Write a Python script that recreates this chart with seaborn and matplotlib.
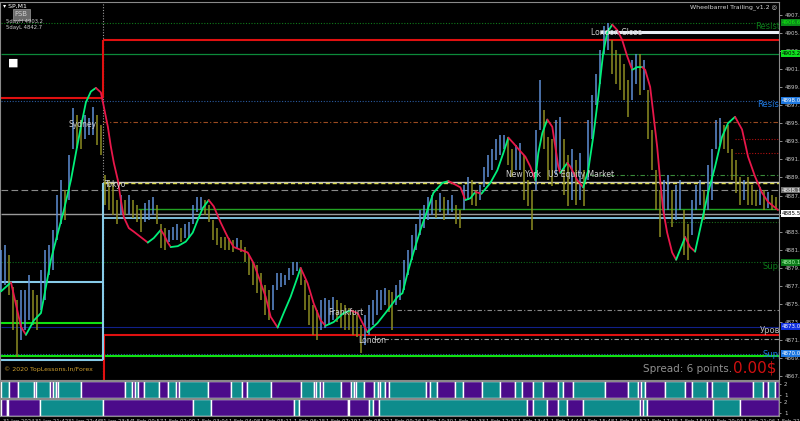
import numpy as np
import pandas as pd
import matplotlib
matplotlib.use("Agg")
import matplotlib.pyplot as plt
import seaborn as sns

# ---- price bars (sampled every 4 bars) ----
bar_x = np.arange(0, 780, 4)
bar_high = [
    4881.5, 4882.0, 4880.9, 4877.4, 4875.9, 4877.1, 4877.1, 4878.7, 4877.1, 4876.5,
    4879.3, 4881.5, 4882.0, 4883.7, 4887.6, 4889.2, 4888.1, 4892.0, 4897.2, 4896.4,
    4895.9, 4896.4, 4896.1, 4897.3, 4896.4, 4895.3, 4889.8, 4889.2, 4888.7, 4887.0,
    4887.6, 4887.0, 4887.6, 4887.0, 4886.5, 4885.9, 4886.7, 4887.0, 4887.3, 4886.5,
    4884.3, 4883.9, 4883.7, 4884.0, 4884.3, 4883.9, 4884.3, 4884.6, 4886.5, 4887.3,
    4887.3, 4887.0, 4886.5, 4884.8, 4883.9, 4882.9, 4882.9, 4882.8, 4882.6, 4882.8,
    4882.6, 4881.8, 4880.9, 4880.2, 4879.8, 4878.9, 4877.6, 4877.1, 4877.6, 4878.9,
    4878.9, 4878.7, 4879.5, 4880.2, 4880.2, 4879.5, 4878.2, 4876.5, 4875.4, 4874.8,
    4875.9, 4876.2, 4875.9, 4876.3, 4875.9, 4875.6, 4875.4, 4875.1, 4874.8, 4874.3,
    4873.2, 4874.3, 4875.4, 4875.9, 4877.1, 4877.1, 4877.3, 4877.1, 4876.8, 4877.6,
    4878.2, 4880.4, 4881.5, 4883.1, 4884.3, 4885.9, 4886.5, 4887.3, 4887.6, 4887.0,
    4887.8, 4887.3, 4887.0, 4887.6, 4886.5, 4885.9, 4888.7, 4889.6, 4889.2, 4888.1,
    4888.7, 4890.6, 4892.0, 4892.6, 4893.7, 4894.2, 4894.2, 4894.0, 4892.6, 4893.1,
    4893.3, 4892.0, 4889.2, 4888.1, 4894.8, 4900.3, 4897.0, 4894.0, 4893.7, 4895.9,
    4896.2, 4893.7, 4892.0, 4892.6, 4891.4, 4892.2, 4890.3, 4895.9, 4898.6, 4900.9,
    4903.6, 4906.2, 4906.6, 4904.7, 4903.6, 4903.1, 4902.0, 4900.3, 4902.5, 4903.1,
    4903.1, 4902.5, 4899.2, 4894.8, 4890.3, 4888.1, 4889.2, 4889.8, 4888.1, 4888.7,
    4889.2, 4885.9, 4884.3, 4887.0, 4888.7, 4889.2, 4888.1, 4890.9, 4892.6, 4895.9,
    4896.1, 4895.3, 4895.3, 4892.6, 4891.4, 4889.6, 4889.2, 4889.6, 4888.7, 4888.1,
    4888.4, 4888.1, 4887.9, 4887.6, 4887.3,
]
bar_low = [
    4877.1, 4877.6, 4876.5, 4872.6, 4869.6, 4871.5, 4872.6, 4873.7, 4873.2, 4872.6,
    4874.8, 4875.9, 4878.7, 4879.3, 4882.6, 4884.3, 4884.8, 4887.0, 4892.6, 4892.8,
    4892.6, 4893.7, 4894.2, 4894.2, 4893.1, 4892.0, 4886.5, 4885.9, 4885.4, 4884.3,
    4885.4, 4885.4, 4885.4, 4885.0, 4884.6, 4883.5, 4884.6, 4884.8, 4885.4, 4884.3,
    4881.7, 4881.5, 4882.4, 4882.6, 4882.6, 4882.4, 4882.8, 4882.8, 4884.3, 4885.7,
    4885.9, 4885.4, 4884.6, 4882.6, 4882.0, 4881.7, 4881.5, 4881.5, 4881.3, 4881.7,
    4881.3, 4880.2, 4878.7, 4877.6, 4876.7, 4875.9, 4874.3, 4873.7, 4874.8, 4877.1,
    4877.4, 4877.6, 4878.2, 4878.7, 4879.1, 4877.6, 4874.8, 4873.2, 4872.1, 4871.5,
    4872.6, 4872.9, 4873.2, 4873.7, 4873.5, 4872.9, 4872.6, 4872.6, 4872.1, 4871.9,
    4870.1, 4871.0, 4872.1, 4873.2, 4874.3, 4874.8, 4875.4, 4874.6, 4872.6, 4875.4,
    4875.9, 4877.1, 4878.7, 4880.4, 4881.5, 4883.1, 4883.9, 4884.8, 4885.4, 4885.0,
    4885.7, 4884.8, 4885.4, 4885.7, 4884.3, 4883.9, 4885.9, 4887.0, 4886.5, 4886.3,
    4887.0, 4888.4, 4889.6, 4890.3, 4891.4, 4892.0, 4892.6, 4890.9, 4889.5, 4890.3,
    4890.3, 4887.0, 4886.3, 4883.7, 4888.1, 4894.8, 4892.6, 4889.2, 4888.5, 4889.8,
    4890.3, 4887.6, 4886.3, 4887.0, 4886.5, 4887.0, 4886.3, 4889.2, 4893.7, 4897.5,
    4899.8, 4903.1, 4903.6, 4900.9, 4899.8, 4899.2, 4898.1, 4896.2, 4898.1, 4899.8,
    4898.6, 4899.2, 4893.7, 4890.3, 4885.9, 4882.9, 4885.4, 4885.9, 4884.0, 4884.8,
    4885.9, 4880.9, 4880.4, 4883.1, 4885.9, 4886.5, 4884.8, 4885.9, 4887.0, 4892.6,
    4893.1, 4892.6, 4892.2, 4889.2, 4887.8, 4886.5, 4887.0, 4886.5, 4886.5, 4886.3,
    4886.5, 4885.9, 4886.1, 4885.9, 4885.9,
]

# ---- trailing moving average ----
ma_x = [0, 10, 20, 25, 33, 40, 45, 50, 57, 63, 70, 75, 80, 85, 90, 95, 100, 103, 107, 110,
        113, 117, 120, 123, 128, 133, 140, 147, 153, 160, 163, 167, 170, 177, 185, 192, 197, 202,
        208, 213, 220, 227, 233, 240, 247, 253, 258, 265, 270, 277, 283, 290, 297, 300, 307,
        313, 320, 325, 333, 343, 350, 357, 362, 367, 377, 387, 397, 402, 407, 413, 420, 427,
        433, 442, 448, 455, 460, 465, 470, 475, 481, 490, 497, 503, 508, 513, 520, 525, 530,
        535, 538, 542, 547, 552, 555, 558, 560, 567, 570, 577, 583, 588, 593, 598, 603, 607,
        612, 617, 622, 627, 632, 637, 642, 645, 650, 653, 657, 660, 663, 667, 672, 676, 680,
        685, 690, 695, 702, 708, 715, 722, 728, 735, 742, 748, 755, 762, 768, 778]
ma_price = [4876.9, 4877.9, 4873.0, 4872.1, 4873.7, 4874.5, 4877.4, 4880.4, 4883.4, 4885.9,
            4889.2, 4892.2, 4895.1, 4897.8, 4899.0, 4899.4, 4898.9, 4897.3, 4895.1, 4892.9,
            4891.1, 4889.2, 4887.0, 4885.1, 4883.9, 4883.5, 4882.9, 4882.3, 4882.8, 4883.7,
            4883.2, 4882.3, 4881.8, 4881.9, 4882.4, 4883.4, 4884.8, 4886.1, 4887.0, 4886.3,
            4884.5, 4882.9, 4881.8, 4881.5, 4881.2, 4880.0, 4878.5, 4876.3, 4874.1, 4872.9,
            4874.5, 4876.3, 4878.5, 4879.5, 4877.8, 4875.6, 4873.7, 4873.1, 4873.5, 4874.5,
            4874.8, 4874.5, 4873.4, 4872.4, 4873.4, 4874.8, 4876.3, 4876.7, 4878.9, 4881.2,
            4883.7, 4885.9, 4887.8, 4888.9, 4889.1, 4888.7, 4888.4, 4887.0, 4887.2, 4887.9,
            4887.7, 4888.9, 4890.3, 4892.2, 4893.9, 4893.3, 4892.4, 4891.8, 4890.7, 4889.2,
            4892.2, 4894.4, 4895.9, 4895.1, 4892.9, 4890.7, 4890.0, 4891.1, 4890.7, 4889.2,
            4888.4, 4890.3, 4894.0, 4898.4, 4903.3, 4905.5, 4906.4, 4905.8, 4904.7, 4902.9,
            4901.4, 4901.7, 4901.7, 4901.4, 4899.5, 4896.7, 4892.9, 4889.2, 4885.9, 4883.4,
            4881.2, 4880.4, 4881.5, 4882.9, 4881.8, 4881.3, 4884.8, 4887.8, 4890.7, 4894.0,
            4895.5, 4896.2, 4894.8, 4891.8, 4889.6, 4887.8, 4886.8, 4885.9]

# ---- horizontal levels ----
resist_upper = 4906.6
london_close_level = 4905.6
day_high = 4904.7
week_line = 4903.2
prev_high = 4898.3
resist_lower = 4898.0
pivot_r = 4895.6
red_dots = [4893.7, 4892.2]
ny_level = 4889.8
tokyo_high = 4888.9
gray_mid = 4888.1
green_mid = 4886.0
bid = 4885.5
tokyo_low = 4885.0
green_dot_low = 4884.6
support_upper = 4880.1
sydney_high = 4877.9
gray_dd1 = 4874.8
lime_prev = 4873.4
uroven = 4873.0
day_low = 4872.1
gray_dd2 = 4871.6
support_lower = 4870.0
lime_low = 4869.7
sydney_low = 4869.3

session_start = 102
x_end = 779

# ---- signal rows (start bar, state 1 = teal / 0 = purple) ----
row1_start = [0, 8, 17, 33, 35, 49, 52, 55, 57, 80, 124, 131, 134, 137, 143, 158, 167, 175,
              178, 207, 230, 241, 246, 270, 300, 313, 315, 319, 322, 340, 350, 353, 355, 363,
              373, 377, 379, 384, 388, 426, 430, 437, 455, 463, 482, 500, 515, 522, 533, 543,
              558, 563, 573, 605, 628, 638, 641, 645, 665, 685, 692, 707, 712, 728, 753, 763,
              768, 775]
row1_state = [1, 0, 1, 0, 1, 0, 1, 0, 1, 0, 1, 0, 1, 0, 1, 0, 1, 0,
              1, 0, 1, 0, 1, 0, 1, 0, 1, 0, 1, 0, 1, 0, 1, 0,
              1, 0, 1, 0, 1, 0, 1, 0, 1, 0, 1, 0, 1, 0, 1, 0,
              1, 0, 1, 0, 1, 0, 1, 0, 1, 0, 1, 0, 1, 0, 1, 0,
              1, 0]
row2_start = [0, 6, 7, 39, 102, 192, 210, 293, 298, 347, 348, 368, 372, 378, 527, 533, 547,
              558, 567, 583, 640, 643, 647, 713, 740]
row2_state = [0, 1, 0, 1, 0, 1, 0, 1, 0, 1, 0, 1, 0, 1, 0, 1, 0,
              1, 0, 1, 0, 1, 0, 1, 0]

time_ticks = [2, 34, 67, 99, 131, 163, 196, 228, 260, 293, 325, 357, 389, 422, 454, 486,
              518, 551, 583, 615, 647, 680, 712, 744, 777]
time_labels = ["31 Jan 2024", "31 Jan 21:42", "31 Jan 22:46", "31 Jan 23:54", "1 Feb 00:57",
               "1 Feb 02:00", "1 Feb 03:04", "1 Feb 04:08", "1 Feb 05:11", "1 Feb 06:15",
               "1 Feb 07:19", "1 Feb 08:22", "1 Feb 09:26", "1 Feb 10:30", "1 Feb 11:33",
               "1 Feb 12:37", "1 Feb 13:41", "1 Feb 14:44", "1 Feb 15:48", "1 Feb 16:52",
               "1 Feb 17:55", "1 Feb 18:59", "1 Feb 20:03", "1 Feb 21:06", "1 Feb 22:10"]

# ---------------------------------------------------------------
sns.set_style("dark", {"axes.facecolor": "black", "figure.facecolor": "black"})
plt.rcParams["font.family"] = ["DejaVu Sans"]

W, H = 800, 421
fig = plt.figure(figsize=(8, 4.21), dpi=100)


def rect(x0, y0, x1, y1):
    return [x0 / W, 1 - y1 / H, (x1 - x0) / W, (y1 - y0) / H]


ax = fig.add_axes(rect(0, 2, 779, 380))
ax1 = fig.add_axes(rect(0, 381, 779, 398))
ax2 = fig.add_axes(rect(0, 399, 779, 416))

for a in (ax, ax1, ax2):
    a.set_facecolor("black")
    a.set_xlim(-1, x_end)
    for s in a.spines.values():
        s.set_color("#8a8a8a")
        s.set_linewidth(0.8)

ax.set_ylim(4867.1, 4908.9)

# period separator
ax.axvline(session_start, color="#9a9a9a", lw=0.8, ls=(0, (1, 1.5)), zorder=1)

# levels
hl = ax.hlines
hl(resist_upper, 0, x_end, color="#0f7a1a", lw=0.8, ls=(0, (1, 1.5)))
hl(week_line, 0, x_end, color="#0c8a3a", lw=0.9)
hl(resist_lower, 0, x_end, color="#2a5aa0", lw=0.8, ls=(0, (1, 1.5)))
hl(pivot_r, session_start, x_end, color="#9a4a20", lw=0.8, ls=(0, (4, 2, 1, 2)))
for p in red_dots:
    hl(p, 735, x_end, color="#b01010", lw=0.8, ls=(0, (1, 1.5)))
hl(ny_level, 590, x_end, color="#3a8a3a", lw=0.8, ls=(0, (4, 2, 1, 2)))
hl(gray_mid, 0, x_end, color="#8a8a8a", lw=0.8, ls=(0, (6, 3)))
hl(tokyo_high + 0.15, session_start, x_end, color="#c8c8c8", lw=1.0)
hl(tokyo_high, session_start, x_end, color="#d8d84a", lw=1.0, ls=(0, (3, 2)))
hl(green_mid, 137, x_end, color="#22a022", lw=1.0)
hl(bid, 0, x_end, color="#9a9a9a", lw=1.0)
hl(tokyo_low, session_start, x_end, color="#87cbe8", lw=1.3)
hl(green_dot_low, 667, x_end, color="#1a6a1a", lw=0.8, ls=(0, (1, 1.5)))
hl(support_upper, 0, x_end, color="#0f6a1a", lw=0.8, ls=(0, (1, 1.5)))
hl(gray_dd1, 397, x_end, color="#8a8a8a", lw=0.8, ls=(0, (4, 2, 1, 2)))
hl(uroven, 0, x_end, color="#10208a", lw=0.8)
hl(gray_dd2, 373, x_end, color="#9a9a9a", lw=0.8, ls=(0, (4, 2, 1, 2)))
hl(support_lower, 0, x_end, color="#2a5aa0", lw=0.8, ls=(0, (1, 1.5)))
hl(lime_low, 0, x_end, color="#10e010", lw=1.5)
hl(lime_prev, 0, session_start, color="#10e010", lw=1.5)
hl(day_low, session_start, x_end, color="#e01010", lw=1.5)
hl(prev_high, 0, session_start, color="#e01010", lw=1.5)
hl(day_high, session_start, x_end, color="#e01010", lw=1.5)
hl(sydney_high, 0, session_start, color="#87cbe8", lw=1.5)
hl(sydney_low, 0, session_start, color="#87cbe8", lw=1.5)
hl(london_close_level, 600, x_end, color="#e8eef4", lw=2.2)
ax.vlines(session_start, prev_high, day_high, color="#e01010", lw=1.5)
ax.vlines(session_start + 1, 4867.1, day_low, color="#e01010", lw=1.5)
ax.vlines(session_start, sydney_low, tokyo_high, color="#87cbe8", lw=1.5)

# price bars
mid = (np.array(bar_high) + np.array(bar_low)) / 2
up = np.r_[True, np.diff(mid) >= 0]
bar_colors = np.where(up, "#5e8fd6", "#8e8e22")
ax.vlines(bar_x, bar_low, bar_high, colors=bar_colors, lw=1.1, zorder=3)

# moving average coloured by direction
ma = pd.DataFrame({"x": ma_x, "p": ma_price})
rising = np.diff(ma["p"].values) >= 0
start = 0
for i in range(1, len(rising) + 1):
    if i == len(rising) or rising[i] != rising[start]:
        seg = ma.iloc[start:i + 1]
        sns.lineplot(data=seg, x="x", y="p", ax=ax, sort=False, estimator=None,
                     color="#00f07a" if rising[start] else "#e8174a", lw=1.3, zorder=4)
        start = i

ax.set_xlabel("")
ax.set_ylabel("")
ax.set_xticks([])
ax.yaxis.tick_right()
ticks = np.arange(4867.5, 4908, 2)
ax.set_yticks(ticks)
ax.set_yticklabels(["" if abs(v - bid) < 0.05 else f"{v:.1f}" for v in ticks])
ax.tick_params(axis="y", colors="#c8c8c8", labelsize=4, length=2, pad=2, width=0.5)

# price tags on the axis
tags = [(resist_upper, "#0c8a1a", "#10f010"), (week_line, "#10e020", "black"),
        (resist_lower, "#1e78e0", "white"), (gray_mid, "#707070", "white"),
        (bid, "white", "black"), (support_upper, "#0c7a1a", "#b0ffb0"),
        (uroven, "#1030e0", "white"), (support_lower, "#1e78e0", "white")]
for p, bg, fg in tags:
    ax.text(1.004, p, f"{p:.1f}", transform=ax.get_yaxis_transform(), fontsize=4,
            color=fg, va="center", ha="left", zorder=7,
            bbox=dict(boxstyle="square,pad=0.15", fc=bg, ec="none"), clip_on=False)

# chart labels
txt = dict(fontsize=5.5, color="#d0d0d0", zorder=6)
ax.text(68, 4895.1, "Sydney", **txt)
ax.text(104, 4888.4, "Tokyo", **txt)
ax.text(328, 4874.3, "Frankfurt", **txt)
ax.text(358, 4871.2, "London", **txt)
ax.text(506, 4889.5, "New York   US Equity Market", **txt)
ax.text(591, 4905.2, "London Close", **txt)

side = dict(fontsize=6, ha="left", va="center", clip_on=True, zorder=6)
ax.text(755, 4906.2, "Resistance", color="#0c7a1a", **side)
ax.text(757, 4897.6, "Resistance", color="#1e78e0", **side)
ax.text(762, 4879.7, "Support", color="#0c7a1a", **side)
ax.text(760, 4872.6, "Уровень", color="#b8b8b8", **side)
ax.text(762, 4869.9, "Support", color="#1e78e0", **side)

ax.text(0.004, 0.995, "▾ SP,M1", transform=ax.transAxes, fontsize=4.5, color="white",
        va="top")
ax.text(0.019, 0.975, "FSB", transform=ax.transAxes, fontsize=5, color="#d0d0d0",
        va="top", bbox=dict(boxstyle="square,pad=0.3", fc="#6a6a6a", ec="#9a9a9a", lw=0.5))
ax.text(0.008, 0.955, "5dayH 4903.2", transform=ax.transAxes, fontsize=3.8,
        color="#d0d0d0", va="top")
ax.text(0.008, 0.94, "5dayL 4842.7", transform=ax.transAxes, fontsize=3.8,
        color="#d0d0d0", va="top")
ax.text(0.01, 0.84, "■", transform=ax.transAxes, fontsize=8, color="white", va="center")
ax.text(0.998, 0.995, "Wheelbarrel Trailing_v1.2 ◎", transform=ax.transAxes,
        fontsize=4.5, color="#d8d8d8", va="top", ha="right")
ax.text(0.005, 0.02, "© 2020 TopLessons.In/Forex", transform=ax.transAxes,
        fontsize=4.5, color="#d0a030", va="bottom")
ax.text(0.825, 0.015, "Spread: 6 points.", transform=ax.transAxes,
        fontsize=7.5, color="#909090", va="bottom")
ax.text(0.997, 0.012, "0.00$", transform=ax.transAxes,
        fontsize=11, color="#d01010", va="bottom", ha="right")

# signal rows
palette = {1: "#0d8c8c", 0: "#4b0b8a"}
for a, starts, states in ((ax1, row1_start, row1_state), (ax2, row2_start, row2_state)):
    ends = starts[1:] + [x_end]
    for s0, s1, st in zip(starts, ends, states):
        a.broken_barh([(s0, s1 - s0)], (0, 1), facecolors=palette[st])
    a.set_ylim(0, 1)
    a.yaxis.tick_right()
    a.set_yticks([0.15, 0.85])
    a.set_yticklabels(["1", "2"])
    a.tick_params(axis="y", colors="#c8c8c8", labelsize=4, length=1.5, pad=2, width=0.5)
    a.set_xticks([])

ax2.set_xticks(time_ticks)
ax2.set_xticklabels(time_labels, ha="left")
ax2.tick_params(axis="x", colors="#c8c8c8", labelsize=3.8, length=2, pad=0.5, width=0.5)

fig.savefig("out.png", dpi=100, facecolor="black")
